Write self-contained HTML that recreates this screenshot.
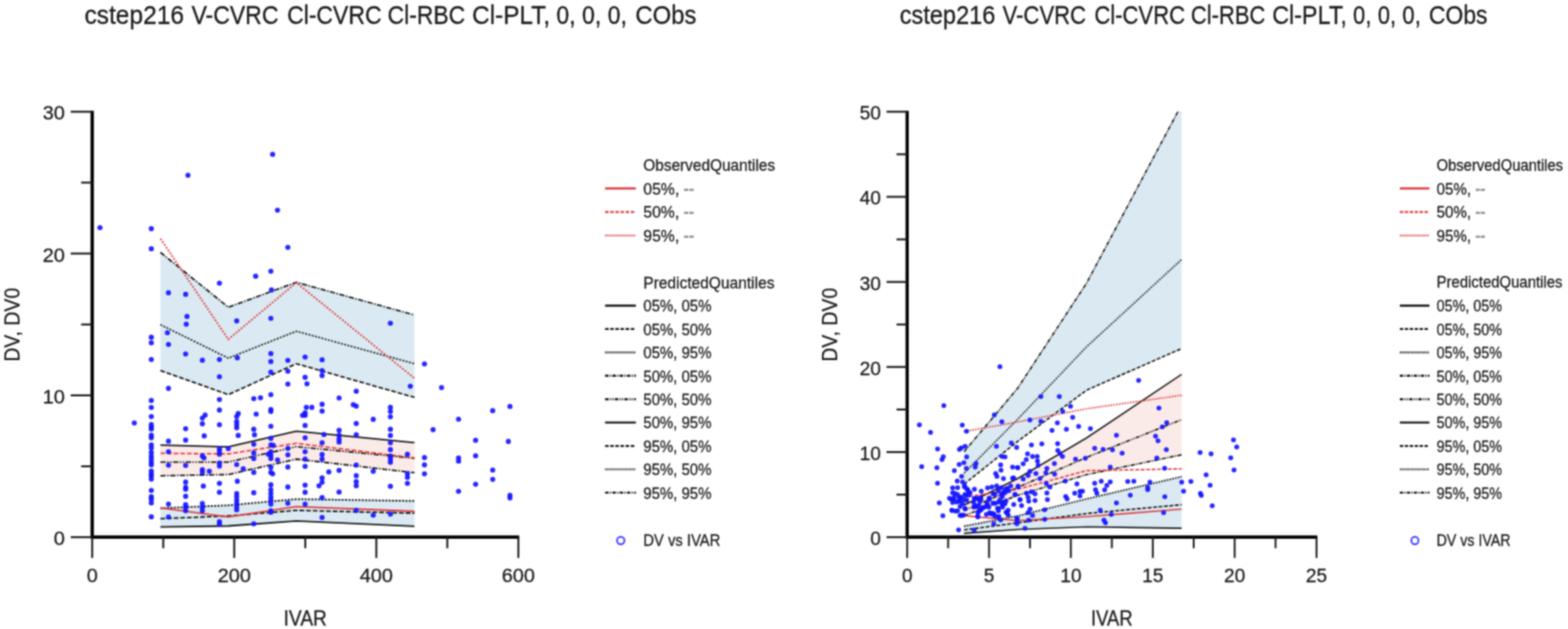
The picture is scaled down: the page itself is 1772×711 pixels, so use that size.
<!DOCTYPE html>
<html lang="en"><head><meta charset="utf-8"><title>cstep216 V-CVRC Cl-CVRC Cl-RBC Cl-PLT, 0, 0, 0, CObs</title>
<style>
html,body{margin:0;padding:0;background:#fff;}
body{width:1772px;height:711px;overflow:hidden;}
svg{display:block;font-family:"Liberation Sans", sans-serif;}
</style></head><body>
<svg width="1772" height="711" viewBox="0 0 1772 711">
<defs><clipPath id="plotclip"><rect x="0" y="125.8" width="1000" height="600"/></clipPath><filter id="soft" x="-6" y="-6" width="1784" height="723" filterUnits="userSpaceOnUse" color-interpolation-filters="sRGB"><feConvolveMatrix order="5" kernelMatrix="0.00087 0.00695 0.01388 0.00695 0.00087 0.00695 0.05540 0.11068 0.05540 0.00695 0.01388 0.11068 0.22111 0.11068 0.01388 0.00695 0.05540 0.11068 0.05540 0.00695 0.00087 0.00695 0.01388 0.00695 0.00087" divisor="1" edgeMode="duplicate" preserveAlpha="true"/></filter></defs>
<g filter="url(#soft)">
<rect x="-6" y="-6" width="1784" height="723" fill="#fff"/>
<g id="left">
<g clip-path="url(#plotclip)">
<polygon points="181.3,285.3 258,347.3 334.9,319.1 468.4,356.1 468.4,449.2 334.9,411.1 258,446.1 181.3,418.9" fill="#dbeaf2"/>
<polygon points="181.3,503.2 258,505.1 334.9,487.4 468.4,500.4 468.4,534.3 334.9,519 258,536.4 181.3,537.8" fill="#fbebe8"/>
<polygon points="181.3,574.5 258,571.2 334.9,564.2 468.4,566.3 468.4,594.8 334.9,588.9 258,594.5 181.3,595.7" fill="#dbeaf2"/>
<polyline points="181.3,285.3 258,347.3 334.9,319.1 468.4,356.1" fill="none" stroke="#151515" stroke-width="1.8" stroke-dasharray="6 1.7 1.6 1.7"/>
<polyline points="181.3,367 258,404.8 334.9,374.4 468.4,411.1" fill="none" stroke="#151515" stroke-width="1.7" stroke-dasharray="2.2 1.6"/>
<polyline points="181.3,418.9 258,446.1 334.9,411.1 468.4,449.2" fill="none" stroke="#151515" stroke-width="1.8" stroke-dasharray="5.3 2.2"/>
<polyline points="181.3,503.2 258,505.1 334.9,487.4 468.4,500.4" fill="none" stroke="#151515" stroke-width="1.8" />
<polyline points="181.3,522.3 258,522.3 334.9,504.9 468.4,518" fill="none" stroke="#151515" stroke-width="1.8" stroke-dasharray="6 1.7 1.6 1.7 1.6 1.7"/>
<polyline points="181.3,537.8 258,536.4 334.9,519 468.4,534.3" fill="none" stroke="#151515" stroke-width="1.8" stroke-dasharray="6 1.7 1.6 1.7"/>
<polyline points="181.3,574.5 258,571.2 334.9,564.2 468.4,566.3" fill="none" stroke="#151515" stroke-width="2" stroke-dasharray="2.2 1.6"/>
<polyline points="181.3,586.3 258,583.2 334.9,576.9 468.4,580.1" fill="none" stroke="#151515" stroke-width="1.8" stroke-dasharray="5.3 2.2"/>
<polyline points="181.3,595.7 258,594.5 334.9,588.9 468.4,594.8" fill="none" stroke="#151515" stroke-width="1.8" />
<polyline points="181.3,269.7 258,383.6 334.9,319.5 468.4,427.6" fill="none" stroke="#e0393e" stroke-width="1.8" stroke-dasharray="2.2 1.6"/>
<polyline points="181.3,512.4 258,513.1 334.9,501.1 468.4,517.6" fill="none" stroke="#e0393e" stroke-width="1.8" stroke-dasharray="5.3 2.2"/>
<polyline points="181.3,574.1 258,584.4 334.9,572.7 468.4,578" fill="none" stroke="#e0393e" stroke-width="1.8" />
</g>
<g fill="#1414ff" fill-opacity="0.93">
<circle cx="308.1" cy="174.4" r="2.9"/>
<circle cx="212.4" cy="198.1" r="2.9"/>
<circle cx="313.6" cy="237.6" r="2.9"/>
<circle cx="113" cy="257.3" r="2.9"/>
<circle cx="171" cy="258.5" r="2.9"/>
<circle cx="171" cy="281.2" r="2.9"/>
<circle cx="325.3" cy="279.6" r="2.9"/>
<circle cx="306.1" cy="306.6" r="2.9"/>
<circle cx="288.9" cy="312.2" r="2.9"/>
<circle cx="248" cy="320.1" r="2.9"/>
<circle cx="306.8" cy="327.7" r="2.9"/>
<circle cx="190.4" cy="330.9" r="2.9"/>
<circle cx="209.8" cy="332.7" r="2.9"/>
<circle cx="211.3" cy="357.7" r="2.9"/>
<circle cx="210.5" cy="366.4" r="2.9"/>
<circle cx="267.5" cy="362.7" r="2.9"/>
<circle cx="306.1" cy="359.8" r="2.9"/>
<circle cx="189.2" cy="376.1" r="2.9"/>
<circle cx="171" cy="381.2" r="2.9"/>
<circle cx="171" cy="387.4" r="2.9"/>
<circle cx="190.4" cy="389.3" r="2.9"/>
<circle cx="209.8" cy="400.1" r="2.9"/>
<circle cx="171" cy="406.3" r="2.9"/>
<circle cx="228.7" cy="407.2" r="2.9"/>
<circle cx="248" cy="406.3" r="2.9"/>
<circle cx="268.2" cy="404.4" r="2.9"/>
<circle cx="306.1" cy="399.7" r="2.9"/>
<circle cx="306.1" cy="408.7" r="2.9"/>
<circle cx="325.3" cy="407.3" r="2.9"/>
<circle cx="344.8" cy="403.6" r="2.9"/>
<circle cx="248" cy="425.8" r="2.9"/>
<circle cx="306.1" cy="420.7" r="2.9"/>
<circle cx="325.3" cy="419.6" r="2.9"/>
<circle cx="344.8" cy="426.5" r="2.9"/>
<circle cx="190.4" cy="439" r="2.9"/>
<circle cx="325.3" cy="434.1" r="2.9"/>
<circle cx="346.9" cy="433.8" r="2.9"/>
<circle cx="306.1" cy="446.1" r="2.9"/>
<circle cx="294.4" cy="449.6" r="2.9"/>
<circle cx="286.8" cy="450.6" r="2.9"/>
<circle cx="248" cy="451.6" r="2.9"/>
<circle cx="171" cy="452.7" r="2.9"/>
<circle cx="171" cy="460.6" r="2.9"/>
<circle cx="248" cy="463.5" r="2.9"/>
<circle cx="306.1" cy="463" r="2.9"/>
<circle cx="306.1" cy="465.1" r="2.9"/>
<circle cx="346.2" cy="460.5" r="2.9"/>
<circle cx="289.5" cy="468.1" r="2.9"/>
<circle cx="269.2" cy="467.4" r="2.9"/>
<circle cx="267.5" cy="470.8" r="2.9"/>
<circle cx="231.8" cy="469.2" r="2.9"/>
<circle cx="228.7" cy="472.6" r="2.9"/>
<circle cx="171" cy="470.8" r="2.9"/>
<circle cx="151.8" cy="478.1" r="2.9"/>
<circle cx="228.7" cy="479" r="2.9"/>
<circle cx="248" cy="480.1" r="2.9"/>
<circle cx="267.5" cy="476.4" r="2.9"/>
<circle cx="267.5" cy="480" r="2.9"/>
<circle cx="267.5" cy="483.5" r="2.9"/>
<circle cx="306.1" cy="481.8" r="2.9"/>
<circle cx="344.8" cy="480.9" r="2.9"/>
<circle cx="344.8" cy="469.4" r="2.9"/>
<circle cx="342" cy="469.4" r="2.9"/>
<circle cx="344.8" cy="466.6" r="2.9"/>
<circle cx="171" cy="480" r="2.9"/>
<circle cx="171" cy="482.8" r="2.9"/>
<circle cx="171" cy="484.9" r="2.9"/>
<circle cx="209.8" cy="484.6" r="2.9"/>
<circle cx="286.8" cy="485.2" r="2.9"/>
<circle cx="287.6" cy="491.4" r="2.9"/>
<circle cx="269.2" cy="492.2" r="2.9"/>
<circle cx="230.8" cy="492.7" r="2.9"/>
<circle cx="171" cy="492" r="2.9"/>
<circle cx="171" cy="494.8" r="2.9"/>
<circle cx="209.8" cy="497.5" r="2.9"/>
<circle cx="190.4" cy="498.7" r="2.9"/>
<circle cx="306.1" cy="495.5" r="2.9"/>
<circle cx="344.8" cy="494.8" r="2.9"/>
<circle cx="171" cy="502.8" r="2.9"/>
<circle cx="171" cy="506.3" r="2.9"/>
<circle cx="171" cy="511.3" r="2.9"/>
<circle cx="171" cy="515.5" r="2.9"/>
<circle cx="171" cy="519" r="2.9"/>
<circle cx="171" cy="522.6" r="2.9"/>
<circle cx="171" cy="525.4" r="2.9"/>
<circle cx="171" cy="532.4" r="2.9"/>
<circle cx="171" cy="536" r="2.9"/>
<circle cx="171" cy="538.1" r="2.9"/>
<circle cx="171" cy="541.6" r="2.9"/>
<circle cx="171" cy="554.3" r="2.9"/>
<circle cx="171" cy="561.4" r="2.9"/>
<circle cx="171" cy="564.2" r="2.9"/>
<circle cx="171" cy="568.4" r="2.9"/>
<circle cx="171" cy="584.2" r="2.9"/>
<circle cx="190.4" cy="510.6" r="2.9"/>
<circle cx="190.4" cy="525.8" r="2.9"/>
<circle cx="190.4" cy="569.8" r="2.9"/>
<circle cx="190.4" cy="584.4" r="2.9"/>
<circle cx="209.8" cy="526.1" r="2.9"/>
<circle cx="209.8" cy="544.9" r="2.9"/>
<circle cx="209.8" cy="550.8" r="2.9"/>
<circle cx="209.8" cy="552.9" r="2.9"/>
<circle cx="209.8" cy="561" r="2.9"/>
<circle cx="209.8" cy="570.5" r="2.9"/>
<circle cx="209.8" cy="573.4" r="2.9"/>
<circle cx="209.8" cy="577.3" r="2.9"/>
<circle cx="228.7" cy="515.5" r="2.9"/>
<circle cx="228.7" cy="531" r="2.9"/>
<circle cx="228.7" cy="533.9" r="2.9"/>
<circle cx="228.7" cy="569.1" r="2.9"/>
<circle cx="228.7" cy="573.4" r="2.9"/>
<circle cx="228.7" cy="577.3" r="2.9"/>
<circle cx="230.5" cy="517.6" r="2.9"/>
<circle cx="236.6" cy="532.7" r="2.9"/>
<circle cx="229.8" cy="549.4" r="2.9"/>
<circle cx="248" cy="507" r="2.9"/>
<circle cx="248" cy="509.9" r="2.9"/>
<circle cx="248" cy="513.4" r="2.9"/>
<circle cx="248" cy="523.3" r="2.9"/>
<circle cx="248" cy="526.8" r="2.9"/>
<circle cx="248" cy="546.3" r="2.9"/>
<circle cx="248" cy="556.4" r="2.9"/>
<circle cx="248" cy="589.6" r="2.9"/>
<circle cx="248" cy="592.4" r="2.9"/>
<circle cx="258" cy="507" r="2.9"/>
<circle cx="267.5" cy="525.1" r="2.9"/>
<circle cx="267.5" cy="557.8" r="2.9"/>
<circle cx="267.5" cy="561.4" r="2.9"/>
<circle cx="267.5" cy="565.6" r="2.9"/>
<circle cx="267.5" cy="569.1" r="2.9"/>
<circle cx="267.5" cy="572.7" r="2.9"/>
<circle cx="267.5" cy="576.2" r="2.9"/>
<circle cx="274.9" cy="529.9" r="2.9"/>
<circle cx="268.2" cy="544" r="2.9"/>
<circle cx="286.8" cy="502.1" r="2.9"/>
<circle cx="286.8" cy="512" r="2.9"/>
<circle cx="286.8" cy="518.3" r="2.9"/>
<circle cx="286.8" cy="533.9" r="2.9"/>
<circle cx="286.8" cy="556.9" r="2.9"/>
<circle cx="286.8" cy="592.1" r="2.9"/>
<circle cx="306.1" cy="502.8" r="2.9"/>
<circle cx="306.1" cy="510.6" r="2.9"/>
<circle cx="306.1" cy="514.8" r="2.9"/>
<circle cx="306.1" cy="518.3" r="2.9"/>
<circle cx="306.1" cy="528.2" r="2.9"/>
<circle cx="306.1" cy="533.9" r="2.9"/>
<circle cx="306.1" cy="548" r="2.9"/>
<circle cx="306.1" cy="553.6" r="2.9"/>
<circle cx="306.1" cy="557.8" r="2.9"/>
<circle cx="306.1" cy="562.1" r="2.9"/>
<circle cx="306.1" cy="565.6" r="2.9"/>
<circle cx="306.1" cy="569.8" r="2.9"/>
<circle cx="306.1" cy="577.3" r="2.9"/>
<circle cx="306.1" cy="579" r="2.9"/>
<circle cx="303.2" cy="513.4" r="2.9"/>
<circle cx="308.1" cy="535.6" r="2.9"/>
<circle cx="313.7" cy="519.8" r="2.9"/>
<circle cx="308.8" cy="503.5" r="2.9"/>
<circle cx="325.3" cy="506.8" r="2.9"/>
<circle cx="325.3" cy="514.1" r="2.9"/>
<circle cx="325.3" cy="527.9" r="2.9"/>
<circle cx="325.3" cy="550.5" r="2.9"/>
<circle cx="325.3" cy="568.8" r="2.9"/>
<circle cx="344.8" cy="510.6" r="2.9"/>
<circle cx="344.8" cy="519" r="2.9"/>
<circle cx="344.8" cy="527.1" r="2.9"/>
<circle cx="344.8" cy="548.3" r="2.9"/>
<circle cx="344.8" cy="556.4" r="2.9"/>
<circle cx="344.8" cy="569.8" r="2.9"/>
<circle cx="441.2" cy="365.3" r="2.9"/>
<circle cx="479.7" cy="411.3" r="2.9"/>
<circle cx="364" cy="406.7" r="2.9"/>
<circle cx="364" cy="418.9" r="2.9"/>
<circle cx="364" cy="424.5" r="2.9"/>
<circle cx="463.7" cy="436.6" r="2.9"/>
<circle cx="499" cy="438.1" r="2.9"/>
<circle cx="402.6" cy="442.2" r="2.9"/>
<circle cx="383.2" cy="449.8" r="2.9"/>
<circle cx="364" cy="457" r="2.9"/>
<circle cx="399.3" cy="457.4" r="2.9"/>
<circle cx="402.6" cy="459.1" r="2.9"/>
<circle cx="352.4" cy="460.5" r="2.9"/>
<circle cx="364" cy="464.7" r="2.9"/>
<circle cx="441.2" cy="460.5" r="2.9"/>
<circle cx="441.2" cy="465.1" r="2.9"/>
<circle cx="441.2" cy="471.1" r="2.9"/>
<circle cx="576.3" cy="459.4" r="2.9"/>
<circle cx="556.8" cy="464.2" r="2.9"/>
<circle cx="421.8" cy="474" r="2.9"/>
<circle cx="518.2" cy="473.8" r="2.9"/>
<circle cx="402.6" cy="478.7" r="2.9"/>
<circle cx="489.4" cy="485.7" r="2.9"/>
<circle cx="441.2" cy="485.2" r="2.9"/>
<circle cx="383.2" cy="486.3" r="2.9"/>
<circle cx="366.1" cy="491.2" r="2.9"/>
<circle cx="402.6" cy="491.5" r="2.9"/>
<circle cx="441.2" cy="492.2" r="2.9"/>
<circle cx="383.2" cy="492" r="2.9"/>
<circle cx="383.2" cy="496.2" r="2.9"/>
<circle cx="383.2" cy="499.7" r="2.9"/>
<circle cx="364" cy="500.4" r="2.9"/>
<circle cx="441.2" cy="500.4" r="2.9"/>
<circle cx="537.5" cy="497.7" r="2.9"/>
<circle cx="574.5" cy="499" r="2.9"/>
<circle cx="364" cy="513.7" r="2.9"/>
<circle cx="364" cy="519" r="2.9"/>
<circle cx="364" cy="540.2" r="2.9"/>
<circle cx="364" cy="545.1" r="2.9"/>
<circle cx="364" cy="562.5" r="2.9"/>
<circle cx="364" cy="584.9" r="2.9"/>
<circle cx="360.5" cy="549.1" r="2.9"/>
<circle cx="371.6" cy="533.4" r="2.9"/>
<circle cx="383.2" cy="531.7" r="2.9"/>
<circle cx="383.2" cy="556.2" r="2.9"/>
<circle cx="402.6" cy="525.7" r="2.9"/>
<circle cx="402.6" cy="537.7" r="2.9"/>
<circle cx="402.6" cy="544.4" r="2.9"/>
<circle cx="402.6" cy="549.1" r="2.9"/>
<circle cx="402.6" cy="576.9" r="2.9"/>
<circle cx="421.8" cy="532.7" r="2.9"/>
<circle cx="421.8" cy="582.3" r="2.9"/>
<circle cx="441.2" cy="508.2" r="2.9"/>
<circle cx="441.2" cy="515.5" r="2.9"/>
<circle cx="441.2" cy="519" r="2.9"/>
<circle cx="441.2" cy="522.6" r="2.9"/>
<circle cx="441.2" cy="549.7" r="2.9"/>
<circle cx="441.2" cy="581.1" r="2.9"/>
<circle cx="460.4" cy="513.4" r="2.9"/>
<circle cx="460.4" cy="535.3" r="2.9"/>
<circle cx="460.4" cy="539.5" r="2.9"/>
<circle cx="460.4" cy="546.3" r="2.9"/>
<circle cx="479.7" cy="517.2" r="2.9"/>
<circle cx="479.7" cy="525.4" r="2.9"/>
<circle cx="479.7" cy="535.6" r="2.9"/>
<circle cx="518.2" cy="517.6" r="2.9"/>
<circle cx="518.2" cy="521.2" r="2.9"/>
<circle cx="518.2" cy="555.3" r="2.9"/>
<circle cx="537.5" cy="515.2" r="2.9"/>
<circle cx="537.5" cy="547.3" r="2.9"/>
<circle cx="556.8" cy="531.3" r="2.9"/>
<circle cx="556.8" cy="541.8" r="2.9"/>
<circle cx="576.3" cy="560" r="2.9"/>
<circle cx="576.3" cy="562.8" r="2.9"/>
</g>
<g stroke="#000" stroke-width="3.8" fill="none" stroke-linecap="butt" stroke-linejoin="miter"><polyline points="104.2,125.3 104.2,607.2 586.8,607.2"/></g>
<g stroke="#1c1c1c" stroke-width="2.2">
<line x1="104.2" y1="607.2" x2="104.2" y2="630.7"/>
<line x1="264.7" y1="607.2" x2="264.7" y2="630.7"/>
<line x1="425.3" y1="607.2" x2="425.3" y2="630.7"/>
<line x1="585.8" y1="607.2" x2="585.8" y2="630.7"/>
<line x1="184.5" y1="607.2" x2="184.5" y2="619.7"/>
<line x1="345" y1="607.2" x2="345" y2="619.7"/>
<line x1="505.5" y1="607.2" x2="505.5" y2="619.7"/>
<line x1="79.9" y1="607.2" x2="104.2" y2="607.2"/>
<line x1="79.9" y1="446.9" x2="104.2" y2="446.9"/>
<line x1="79.9" y1="286.6" x2="104.2" y2="286.6"/>
<line x1="79.9" y1="126.3" x2="104.2" y2="126.3"/>
<line x1="91.7" y1="527.1" x2="104.2" y2="527.1"/>
<line x1="91.7" y1="366.8" x2="104.2" y2="366.8"/>
<line x1="91.7" y1="206.4" x2="104.2" y2="206.4"/>
</g>
<g font-size="22.5" fill="#1a1a1a" stroke="#1a1a1a" stroke-width="0.3" text-anchor="middle">
<text x="104.2" y="658.2">0</text>
<text x="264.7" y="658.2">200</text>
<text x="425.3" y="658.2">400</text>
<text x="585.8" y="658.2">600</text>
</g>
<g font-size="22.5" fill="#1a1a1a" stroke="#1a1a1a" stroke-width="0.3" text-anchor="end">
<text x="73.3" y="616.1">0</text>
<text x="73.3" y="455.8">10</text>
<text x="73.3" y="295.5">20</text>
<text x="73.3" y="135.2">30</text>
</g>
<text y="27" font-size="29" fill="#1a1a1a" stroke="#1a1a1a" stroke-width="0.3"><tspan x="95.4" textLength="112.6" lengthAdjust="spacingAndGlyphs">cstep216</tspan> <tspan x="216.4" textLength="98.3" lengthAdjust="spacingAndGlyphs">V-CVRC</tspan> <tspan x="324.4" textLength="106.8" lengthAdjust="spacingAndGlyphs">Cl-CVRC</tspan> <tspan x="438" textLength="87.6" lengthAdjust="spacingAndGlyphs">Cl-RBC</tspan> <tspan x="533.6" textLength="88" lengthAdjust="spacingAndGlyphs">Cl-PLT,</tspan> <tspan x="628.8" textLength="79.6" lengthAdjust="spacingAndGlyphs">0, 0, 0,</tspan> <tspan x="718" textLength="69" lengthAdjust="spacingAndGlyphs">CObs</tspan></text>
<text x="320.6" y="706.9" font-size="23" fill="#1a1a1a" stroke="#1a1a1a" stroke-width="0.3" textLength="48.8" lengthAdjust="spacingAndGlyphs">IVAR</text>
<text transform="translate(21.5 408.8) rotate(-90)" font-size="24.5" fill="#1a1a1a" stroke="#1a1a1a" stroke-width="0.3" textLength="83.5" lengthAdjust="spacingAndGlyphs">DV, DV0</text>
<g font-size="19" fill="#1a1a1a" stroke="#1a1a1a" stroke-width="0.3">
<text x="727" y="192.8" textLength="148.9" lengthAdjust="spacingAndGlyphs">ObservedQuantiles</text>
<text x="727" y="219.8" textLength="57.4" lengthAdjust="spacingAndGlyphs">05%, <tspan fill="#8a8a8a">--</tspan></text>
<text x="727" y="246.4" textLength="57.4" lengthAdjust="spacingAndGlyphs">50%, <tspan fill="#8a8a8a">--</tspan></text>
<text x="727" y="273" textLength="57.4" lengthAdjust="spacingAndGlyphs">95%, <tspan fill="#8a8a8a">--</tspan></text>
<text x="727" y="325.5" textLength="148.2" lengthAdjust="spacingAndGlyphs">PredictedQuantiles</text>
<text x="727" y="352.3" textLength="77" lengthAdjust="spacingAndGlyphs">05%, 05%</text>
<text x="727" y="378.7" textLength="77" lengthAdjust="spacingAndGlyphs">05%, 50%</text>
<text x="727" y="405.2" textLength="77" lengthAdjust="spacingAndGlyphs">05%, 95%</text>
<text x="727" y="431.6" textLength="77" lengthAdjust="spacingAndGlyphs">50%, 05%</text>
<text x="727" y="458" textLength="77" lengthAdjust="spacingAndGlyphs">50%, 50%</text>
<text x="727" y="484.4" textLength="77" lengthAdjust="spacingAndGlyphs">50%, 95%</text>
<text x="727" y="510.9" textLength="77" lengthAdjust="spacingAndGlyphs">95%, 05%</text>
<text x="727" y="537.3" textLength="77" lengthAdjust="spacingAndGlyphs">95%, 50%</text>
<text x="727" y="563.7" textLength="77" lengthAdjust="spacingAndGlyphs">95%, 95%</text>
<text x="727" y="617.3" textLength="87.1" lengthAdjust="spacingAndGlyphs">DV vs IVAR</text>
</g>
<line x1="683.8" x2="718.6" y1="213" y2="213" stroke="#e0393e" stroke-width="2.4" />
<line x1="683.8" x2="718.6" y1="239.6" y2="239.6" stroke="#e0393e" stroke-width="2.4" stroke-dasharray="4 1.8"/>
<line x1="683.8" x2="718.6" y1="266.2" y2="266.2" stroke="#e0393e" stroke-width="2" stroke-dasharray="1.5 1"/>
<line x1="683.8" x2="718.6" y1="345.5" y2="345.5" stroke="#151515" stroke-width="2.4" />
<line x1="683.8" x2="718.6" y1="371.9" y2="371.9" stroke="#151515" stroke-width="2.4" stroke-dasharray="4 1.8"/>
<line x1="683.8" x2="718.6" y1="398.4" y2="398.4" stroke="#151515" stroke-width="2.2" stroke-dasharray="1.5 1"/>
<line x1="683.8" x2="718.6" y1="424.8" y2="424.8" stroke="#151515" stroke-width="2.4" stroke-dasharray="4 1.5 1.2 1.5"/>
<line x1="683.8" x2="718.6" y1="451.2" y2="451.2" stroke="#151515" stroke-width="2.4" stroke-dasharray="4 1.5 1.2 1.5 1.2 1.5"/>
<line x1="683.8" x2="718.6" y1="477.6" y2="477.6" stroke="#151515" stroke-width="2.4" />
<line x1="683.8" x2="718.6" y1="504.1" y2="504.1" stroke="#151515" stroke-width="2.4" stroke-dasharray="4 1.8"/>
<line x1="683.8" x2="718.6" y1="530.5" y2="530.5" stroke="#151515" stroke-width="2.2" stroke-dasharray="1.5 1"/>
<line x1="683.8" x2="718.6" y1="556.9" y2="556.9" stroke="#151515" stroke-width="2.4" stroke-dasharray="4 1.5 1.2 1.5"/>
<circle cx="701.5" cy="611" r="4.2" fill="#fff" stroke="#3a3aff" stroke-width="2"/>
</g>
<g id="right" transform="translate(925.1 0) scale(0.9606 1)">
<g clip-path="url(#plotclip)">
<polygon points="171.1,510.6 234.1,439 315.3,320 427.1,118.3 427.1,394 315.3,441 234.1,499 171.1,547.3" fill="#dbeaf2"/>
<polygon points="171.1,571 234.1,541 315.3,495 427.1,423.1 427.1,514.1 315.3,536.5 234.1,560 171.1,583" fill="#fbebe8"/>
<polygon points="171.1,594.8 234.1,583.2 315.3,564 427.1,538.8 427.1,597.1 315.3,595.5 234.1,598.5 171.1,602.9" fill="#dbeaf2"/>
<polyline points="171.1,510.6 234.1,439 315.3,320 427.1,118.3" fill="none" stroke="#151515" stroke-width="1.7" stroke-dasharray="5.1 1.4 1.4 1.4"/>
<polyline points="171.1,534.9 234.1,474 315.3,392 427.1,293.3" fill="none" stroke="#151515" stroke-width="1.6" stroke-dasharray="1.9 1.4"/>
<polyline points="171.1,547.3 234.1,499 315.3,441 427.1,394" fill="none" stroke="#151515" stroke-width="1.7" stroke-dasharray="4.5 1.9"/>
<polyline points="171.1,571 234.1,541 315.3,495 427.1,423.1" fill="none" stroke="#151515" stroke-width="1.7" />
<polyline points="171.1,577 234.1,551 315.3,517 427.1,474.3" fill="none" stroke="#151515" stroke-width="1.7" stroke-dasharray="5.1 1.4 1.4 1.4 1.4 1.4"/>
<polyline points="171.1,583 234.1,560 315.3,536.5 427.1,514.1" fill="none" stroke="#151515" stroke-width="1.7" stroke-dasharray="5.1 1.4 1.4 1.4"/>
<polyline points="171.1,594.8 234.1,583.2 315.3,564 427.1,538.8" fill="none" stroke="#151515" stroke-width="1.9" stroke-dasharray="1.9 1.4"/>
<polyline points="171.1,599 234.1,591 315.3,580.5 427.1,570.5" fill="none" stroke="#151515" stroke-width="1.7" stroke-dasharray="4.5 1.9"/>
<polyline points="171.1,602.9 234.1,598.5 315.3,595.5 427.1,597.1" fill="none" stroke="#151515" stroke-width="1.7" />
<polyline points="171.1,487.8 234.1,477 315.3,462 427.1,446.8" fill="none" stroke="#e0393e" stroke-width="1.7" stroke-dasharray="1.9 1.4"/>
<polyline points="171.1,562 234.1,553 315.3,532 427.1,530" fill="none" stroke="#e0393e" stroke-width="1.7" stroke-dasharray="4.5 1.9"/>
<polyline points="171.1,582.8 234.1,588.5 315.3,584 427.1,575.5" fill="none" stroke="#e0393e" stroke-width="1.7" />
</g>
<g fill="#1414ff" fill-opacity="0.93">
<ellipse cx="213.3" cy="414.6" rx="2.85" ry="2.75"/>
<ellipse cx="147.3" cy="458.4" rx="2.85" ry="2.75"/>
<ellipse cx="118.6" cy="480.2" rx="2.85" ry="2.75"/>
<ellipse cx="131.7" cy="488.8" rx="2.85" ry="2.75"/>
<ellipse cx="169" cy="480.4" rx="2.85" ry="2.75"/>
<ellipse cx="174" cy="487.4" rx="2.85" ry="2.75"/>
<ellipse cx="206.7" cy="469" rx="2.85" ry="2.75"/>
<ellipse cx="215.6" cy="476.7" rx="2.85" ry="2.75"/>
<ellipse cx="261.5" cy="448.2" rx="2.85" ry="2.75"/>
<ellipse cx="283.2" cy="448.2" rx="2.85" ry="2.75"/>
<ellipse cx="296.4" cy="459.2" rx="2.85" ry="2.75"/>
<ellipse cx="287.2" cy="465.1" rx="2.85" ry="2.75"/>
<ellipse cx="248.6" cy="474.7" rx="2.85" ry="2.75"/>
<ellipse cx="261.5" cy="476.2" rx="2.85" ry="2.75"/>
<ellipse cx="298.9" cy="471.8" rx="2.85" ry="2.75"/>
<ellipse cx="280.9" cy="478.1" rx="2.85" ry="2.75"/>
<ellipse cx="274.6" cy="486.5" rx="2.85" ry="2.75"/>
<ellipse cx="291.5" cy="485.3" rx="2.85" ry="2.75"/>
<ellipse cx="305.9" cy="482.1" rx="2.85" ry="2.75"/>
<ellipse cx="319.8" cy="484.6" rx="2.85" ry="2.75"/>
<ellipse cx="350.4" cy="492" rx="2.85" ry="2.75"/>
<ellipse cx="140" cy="507.4" rx="2.85" ry="2.75"/>
<ellipse cx="165.7" cy="508.1" rx="2.85" ry="2.75"/>
<ellipse cx="167.9" cy="506.3" rx="2.85" ry="2.75"/>
<ellipse cx="172.4" cy="504.6" rx="2.85" ry="2.75"/>
<ellipse cx="146.7" cy="516.2" rx="2.85" ry="2.75"/>
<ellipse cx="145.2" cy="519.4" rx="2.85" ry="2.75"/>
<ellipse cx="174.2" cy="516.4" rx="2.85" ry="2.75"/>
<ellipse cx="121.3" cy="527.4" rx="2.85" ry="2.75"/>
<ellipse cx="139.2" cy="528.8" rx="2.85" ry="2.75"/>
<ellipse cx="165.4" cy="525" rx="2.85" ry="2.75"/>
<ellipse cx="170.9" cy="522.9" rx="2.85" ry="2.75"/>
<ellipse cx="159.7" cy="531.9" rx="2.85" ry="2.75"/>
<ellipse cx="173.8" cy="529.6" rx="2.85" ry="2.75"/>
<ellipse cx="185.2" cy="524" rx="2.85" ry="2.75"/>
<ellipse cx="184.2" cy="527.9" rx="2.85" ry="2.75"/>
<ellipse cx="209.2" cy="504.4" rx="2.85" ry="2.75"/>
<ellipse cx="226.7" cy="500.7" rx="2.85" ry="2.75"/>
<ellipse cx="233" cy="505.8" rx="2.85" ry="2.75"/>
<ellipse cx="215.7" cy="515.9" rx="2.85" ry="2.75"/>
<ellipse cx="219.3" cy="516.4" rx="2.85" ry="2.75"/>
<ellipse cx="214.2" cy="525.5" rx="2.85" ry="2.75"/>
<ellipse cx="214.6" cy="531.4" rx="2.85" ry="2.75"/>
<ellipse cx="228.2" cy="527.9" rx="2.85" ry="2.75"/>
<ellipse cx="234.4" cy="528.8" rx="2.85" ry="2.75"/>
<ellipse cx="208.3" cy="535.3" rx="2.85" ry="2.75"/>
<ellipse cx="209.8" cy="538.4" rx="2.85" ry="2.75"/>
<ellipse cx="217.5" cy="540.9" rx="2.85" ry="2.75"/>
<ellipse cx="228.2" cy="540.6" rx="2.85" ry="2.75"/>
<ellipse cx="168.3" cy="538.4" rx="2.85" ry="2.75"/>
<ellipse cx="163.1" cy="543.7" rx="2.85" ry="2.75"/>
<ellipse cx="169.4" cy="544.8" rx="2.85" ry="2.75"/>
<ellipse cx="139.9" cy="546.2" rx="2.85" ry="2.75"/>
<ellipse cx="171.7" cy="548.7" rx="2.85" ry="2.75"/>
<ellipse cx="142" cy="568.6" rx="2.85" ry="2.75"/>
<ellipse cx="146.2" cy="582.9" rx="2.85" ry="2.75"/>
<ellipse cx="157.7" cy="551.6" rx="2.85" ry="2.75"/>
<ellipse cx="163.5" cy="551.3" rx="2.85" ry="2.75"/>
<ellipse cx="171.7" cy="550.6" rx="2.85" ry="2.75"/>
<ellipse cx="175.3" cy="553.4" rx="2.85" ry="2.75"/>
<ellipse cx="183.3" cy="553.1" rx="2.85" ry="2.75"/>
<ellipse cx="191.4" cy="555.2" rx="2.85" ry="2.75"/>
<ellipse cx="198.8" cy="551.6" rx="2.85" ry="2.75"/>
<ellipse cx="203.9" cy="550.6" rx="2.85" ry="2.75"/>
<ellipse cx="209.5" cy="549.2" rx="2.85" ry="2.75"/>
<ellipse cx="215" cy="551.3" rx="2.85" ry="2.75"/>
<ellipse cx="221.5" cy="552" rx="2.85" ry="2.75"/>
<ellipse cx="226" cy="549.2" rx="2.85" ry="2.75"/>
<ellipse cx="234.7" cy="550.6" rx="2.85" ry="2.75"/>
<ellipse cx="157.7" cy="556.9" rx="2.85" ry="2.75"/>
<ellipse cx="163.5" cy="559" rx="2.85" ry="2.75"/>
<ellipse cx="154" cy="563.3" rx="2.85" ry="2.75"/>
<ellipse cx="159.2" cy="562.6" rx="2.85" ry="2.75"/>
<ellipse cx="166.5" cy="562.6" rx="2.85" ry="2.75"/>
<ellipse cx="173.8" cy="559.8" rx="2.85" ry="2.75"/>
<ellipse cx="178.2" cy="556.9" rx="2.85" ry="2.75"/>
<ellipse cx="157.7" cy="567.9" rx="2.85" ry="2.75"/>
<ellipse cx="165.7" cy="566.8" rx="2.85" ry="2.75"/>
<ellipse cx="185.6" cy="563.3" rx="2.85" ry="2.75"/>
<ellipse cx="190.7" cy="562.6" rx="2.85" ry="2.75"/>
<ellipse cx="201" cy="562.9" rx="2.85" ry="2.75"/>
<ellipse cx="205.4" cy="558.3" rx="2.85" ry="2.75"/>
<ellipse cx="215" cy="559" rx="2.85" ry="2.75"/>
<ellipse cx="219.3" cy="556.9" rx="2.85" ry="2.75"/>
<ellipse cx="223.7" cy="554.8" rx="2.85" ry="2.75"/>
<ellipse cx="231.1" cy="559" rx="2.85" ry="2.75"/>
<ellipse cx="236.9" cy="564.7" rx="2.85" ry="2.75"/>
<ellipse cx="229.6" cy="570.3" rx="2.85" ry="2.75"/>
<ellipse cx="219.3" cy="569.6" rx="2.85" ry="2.75"/>
<ellipse cx="207.6" cy="568.9" rx="2.85" ry="2.75"/>
<ellipse cx="198.1" cy="568.9" rx="2.85" ry="2.75"/>
<ellipse cx="188.5" cy="571" rx="2.85" ry="2.75"/>
<ellipse cx="182.6" cy="573.2" rx="2.85" ry="2.75"/>
<ellipse cx="192.9" cy="573.9" rx="2.85" ry="2.75"/>
<ellipse cx="200.3" cy="573.2" rx="2.85" ry="2.75"/>
<ellipse cx="210.5" cy="574.6" rx="2.85" ry="2.75"/>
<ellipse cx="216.4" cy="573.2" rx="2.85" ry="2.75"/>
<ellipse cx="223" cy="576.7" rx="2.85" ry="2.75"/>
<ellipse cx="172.4" cy="575.3" rx="2.85" ry="2.75"/>
<ellipse cx="166.5" cy="572.4" rx="2.85" ry="2.75"/>
<ellipse cx="157" cy="577" rx="2.85" ry="2.75"/>
<ellipse cx="163.5" cy="577.4" rx="2.85" ry="2.75"/>
<ellipse cx="167.9" cy="582.3" rx="2.85" ry="2.75"/>
<ellipse cx="187.1" cy="583.7" rx="2.85" ry="2.75"/>
<ellipse cx="188.5" cy="578.1" rx="2.85" ry="2.75"/>
<ellipse cx="197.4" cy="581.6" rx="2.85" ry="2.75"/>
<ellipse cx="204.7" cy="580.2" rx="2.85" ry="2.75"/>
<ellipse cx="212.1" cy="583.7" rx="2.85" ry="2.75"/>
<ellipse cx="223" cy="582.3" rx="2.85" ry="2.75"/>
<ellipse cx="233.3" cy="585.9" rx="2.85" ry="2.75"/>
<ellipse cx="182.6" cy="568.2" rx="2.85" ry="2.75"/>
<ellipse cx="213.5" cy="564.7" rx="2.85" ry="2.75"/>
<ellipse cx="250.4" cy="503" rx="2.85" ry="2.75"/>
<ellipse cx="262.6" cy="501.8" rx="2.85" ry="2.75"/>
<ellipse cx="281.2" cy="501.4" rx="2.85" ry="2.75"/>
<ellipse cx="281.4" cy="509.2" rx="2.85" ry="2.75"/>
<ellipse cx="286.9" cy="515.9" rx="2.85" ry="2.75"/>
<ellipse cx="284" cy="512.7" rx="2.85" ry="2.75"/>
<ellipse cx="245.8" cy="513.1" rx="2.85" ry="2.75"/>
<ellipse cx="251.7" cy="515.9" rx="2.85" ry="2.75"/>
<ellipse cx="257.2" cy="515.9" rx="2.85" ry="2.75"/>
<ellipse cx="244.3" cy="519.4" rx="2.85" ry="2.75"/>
<ellipse cx="257.5" cy="521.2" rx="2.85" ry="2.75"/>
<ellipse cx="240.7" cy="524.3" rx="2.85" ry="2.75"/>
<ellipse cx="258.3" cy="526.1" rx="2.85" ry="2.75"/>
<ellipse cx="234" cy="528.6" rx="2.85" ry="2.75"/>
<ellipse cx="277.4" cy="524" rx="2.85" ry="2.75"/>
<ellipse cx="302.3" cy="519" rx="2.85" ry="2.75"/>
<ellipse cx="313.8" cy="518" rx="2.85" ry="2.75"/>
<ellipse cx="324.8" cy="506.7" rx="2.85" ry="2.75"/>
<ellipse cx="334.7" cy="508.1" rx="2.85" ry="2.75"/>
<ellipse cx="345.7" cy="508.5" rx="2.85" ry="2.75"/>
<ellipse cx="357.1" cy="512.3" rx="2.85" ry="2.75"/>
<ellipse cx="343.1" cy="527.9" rx="2.85" ry="2.75"/>
<ellipse cx="268.6" cy="529.6" rx="2.85" ry="2.75"/>
<ellipse cx="267.4" cy="534.6" rx="2.85" ry="2.75"/>
<ellipse cx="277.7" cy="536" rx="2.85" ry="2.75"/>
<ellipse cx="248.7" cy="532.8" rx="2.85" ry="2.75"/>
<ellipse cx="255.7" cy="535.3" rx="2.85" ry="2.75"/>
<ellipse cx="246.5" cy="537.4" rx="2.85" ry="2.75"/>
<ellipse cx="240.7" cy="541.6" rx="2.85" ry="2.75"/>
<ellipse cx="260.5" cy="540.9" rx="2.85" ry="2.75"/>
<ellipse cx="229.6" cy="540.2" rx="2.85" ry="2.75"/>
<ellipse cx="290.2" cy="543.7" rx="2.85" ry="2.75"/>
<ellipse cx="267.9" cy="546.6" rx="2.85" ry="2.75"/>
<ellipse cx="303.9" cy="546.9" rx="2.85" ry="2.75"/>
<ellipse cx="324.8" cy="546.2" rx="2.85" ry="2.75"/>
<ellipse cx="332.5" cy="544.1" rx="2.85" ry="2.75"/>
<ellipse cx="343.1" cy="544.8" rx="2.85" ry="2.75"/>
<ellipse cx="339.1" cy="548.7" rx="2.85" ry="2.75"/>
<ellipse cx="234.7" cy="549.4" rx="2.85" ry="2.75"/>
<ellipse cx="336.5" cy="553.8" rx="2.85" ry="2.75"/>
<ellipse cx="325.8" cy="553.4" rx="2.85" ry="2.75"/>
<ellipse cx="327.3" cy="557.6" rx="2.85" ry="2.75"/>
<ellipse cx="310.4" cy="555.2" rx="2.85" ry="2.75"/>
<ellipse cx="307.5" cy="555.5" rx="2.85" ry="2.75"/>
<ellipse cx="301.3" cy="557.6" rx="2.85" ry="2.75"/>
<ellipse cx="307.5" cy="560.5" rx="2.85" ry="2.75"/>
<ellipse cx="290.7" cy="561.2" rx="2.85" ry="2.75"/>
<ellipse cx="292.4" cy="564" rx="2.85" ry="2.75"/>
<ellipse cx="272.2" cy="550.6" rx="2.85" ry="2.75"/>
<ellipse cx="268.6" cy="557.3" rx="2.85" ry="2.75"/>
<ellipse cx="269.2" cy="564.7" rx="2.85" ry="2.75"/>
<ellipse cx="231.1" cy="559" rx="2.85" ry="2.75"/>
<ellipse cx="244.7" cy="557.6" rx="2.85" ry="2.75"/>
<ellipse cx="250.3" cy="555.9" rx="2.85" ry="2.75"/>
<ellipse cx="254.6" cy="558.3" rx="2.85" ry="2.75"/>
<ellipse cx="246.5" cy="561.9" rx="2.85" ry="2.75"/>
<ellipse cx="237" cy="564.7" rx="2.85" ry="2.75"/>
<ellipse cx="247.2" cy="566.5" rx="2.85" ry="2.75"/>
<ellipse cx="254.6" cy="565.7" rx="2.85" ry="2.75"/>
<ellipse cx="238.8" cy="571.4" rx="2.85" ry="2.75"/>
<ellipse cx="248.7" cy="575.6" rx="2.85" ry="2.75"/>
<ellipse cx="246.5" cy="579.5" rx="2.85" ry="2.75"/>
<ellipse cx="251.7" cy="582.7" rx="2.85" ry="2.75"/>
<ellipse cx="266" cy="576.3" rx="2.85" ry="2.75"/>
<ellipse cx="266" cy="586.9" rx="2.85" ry="2.75"/>
<ellipse cx="233.7" cy="585.9" rx="2.85" ry="2.75"/>
<ellipse cx="247.2" cy="588" rx="2.85" ry="2.75"/>
<ellipse cx="350.4" cy="568.6" rx="2.85" ry="2.75"/>
<ellipse cx="331.4" cy="576.7" rx="2.85" ry="2.75"/>
<ellipse cx="344.3" cy="581.6" rx="2.85" ry="2.75"/>
<ellipse cx="335.7" cy="588" rx="2.85" ry="2.75"/>
<ellipse cx="164.7" cy="599" rx="2.85" ry="2.75"/>
<ellipse cx="183" cy="599.3" rx="2.85" ry="2.75"/>
<ellipse cx="206.1" cy="591.9" rx="2.85" ry="2.75"/>
<ellipse cx="233.3" cy="589.1" rx="2.85" ry="2.75"/>
<ellipse cx="233.3" cy="591.9" rx="2.85" ry="2.75"/>
<ellipse cx="214.2" cy="587.7" rx="2.85" ry="2.75"/>
<ellipse cx="187.4" cy="584.2" rx="2.85" ry="2.75"/>
<ellipse cx="376.5" cy="429.9" rx="2.85" ry="2.75"/>
<ellipse cx="400.4" cy="461.2" rx="2.85" ry="2.75"/>
<ellipse cx="409.5" cy="477.8" rx="2.85" ry="2.75"/>
<ellipse cx="404.4" cy="482.4" rx="2.85" ry="2.75"/>
<ellipse cx="396.4" cy="493.1" rx="2.85" ry="2.75"/>
<ellipse cx="399.3" cy="498.3" rx="2.85" ry="2.75"/>
<ellipse cx="409.1" cy="508.2" rx="2.85" ry="2.75"/>
<ellipse cx="397.9" cy="517.8" rx="2.85" ry="2.75"/>
<ellipse cx="448.8" cy="511.4" rx="2.85" ry="2.75"/>
<ellipse cx="461.7" cy="513.1" rx="2.85" ry="2.75"/>
<ellipse cx="488.1" cy="497.3" rx="2.85" ry="2.75"/>
<ellipse cx="491.9" cy="505.2" rx="2.85" ry="2.75"/>
<ellipse cx="484.9" cy="517.6" rx="2.85" ry="2.75"/>
<ellipse cx="407.1" cy="529.2" rx="2.85" ry="2.75"/>
<ellipse cx="488.7" cy="531.2" rx="2.85" ry="2.75"/>
<ellipse cx="455.9" cy="536.7" rx="2.85" ry="2.75"/>
<ellipse cx="363.7" cy="544.2" rx="2.85" ry="2.75"/>
<ellipse cx="370.9" cy="543.9" rx="2.85" ry="2.75"/>
<ellipse cx="389.8" cy="544.9" rx="2.85" ry="2.75"/>
<ellipse cx="387.2" cy="551.1" rx="2.85" ry="2.75"/>
<ellipse cx="387.2" cy="553.6" rx="2.85" ry="2.75"/>
<ellipse cx="366.7" cy="559.7" rx="2.85" ry="2.75"/>
<ellipse cx="407.3" cy="561.4" rx="2.85" ry="2.75"/>
<ellipse cx="405.9" cy="579.4" rx="2.85" ry="2.75"/>
<ellipse cx="427.2" cy="545" rx="2.85" ry="2.75"/>
<ellipse cx="438" cy="544.3" rx="2.85" ry="2.75"/>
<ellipse cx="460.6" cy="548.4" rx="2.85" ry="2.75"/>
<ellipse cx="429.4" cy="555.2" rx="2.85" ry="2.75"/>
<ellipse cx="449.2" cy="557.8" rx="2.85" ry="2.75"/>
<ellipse cx="450.2" cy="560" rx="2.85" ry="2.75"/>
<ellipse cx="463.1" cy="571.8" rx="2.85" ry="2.75"/>
<ellipse cx="172.1" cy="559" rx="2.85" ry="2.75"/>
<ellipse cx="167.7" cy="562" rx="2.85" ry="2.75"/>
<ellipse cx="176.5" cy="556.1" rx="2.85" ry="2.75"/>
<ellipse cx="174.3" cy="565.4" rx="2.85" ry="2.75"/>
<ellipse cx="183.1" cy="563.7" rx="2.85" ry="2.75"/>
<ellipse cx="187.5" cy="563.7" rx="2.85" ry="2.75"/>
<ellipse cx="189.7" cy="566.2" rx="2.85" ry="2.75"/>
<ellipse cx="200.7" cy="563.7" rx="2.85" ry="2.75"/>
<ellipse cx="207.3" cy="558.6" rx="2.85" ry="2.75"/>
<ellipse cx="218.3" cy="556.1" rx="2.85" ry="2.75"/>
<ellipse cx="220.5" cy="552.7" rx="2.85" ry="2.75"/>
<ellipse cx="216.1" cy="561.2" rx="2.85" ry="2.75"/>
<ellipse cx="211.7" cy="567.5" rx="2.85" ry="2.75"/>
<ellipse cx="205.1" cy="568.8" rx="2.85" ry="2.75"/>
<ellipse cx="185.3" cy="572.6" rx="2.85" ry="2.75"/>
<ellipse cx="189.7" cy="576" rx="2.85" ry="2.75"/>
<ellipse cx="194.1" cy="573.8" rx="2.85" ry="2.75"/>
<ellipse cx="198.5" cy="570.5" rx="2.85" ry="2.75"/>
<ellipse cx="187.5" cy="579.8" rx="2.85" ry="2.75"/>
<ellipse cx="202.9" cy="581" rx="2.85" ry="2.75"/>
<ellipse cx="207.3" cy="583.2" rx="2.85" ry="2.75"/>
<ellipse cx="211.7" cy="574.7" rx="2.85" ry="2.75"/>
<ellipse cx="216.1" cy="570.5" rx="2.85" ry="2.75"/>
<ellipse cx="220.5" cy="578.9" rx="2.85" ry="2.75"/>
<ellipse cx="211.7" cy="585.3" rx="2.85" ry="2.75"/>
<ellipse cx="158.9" cy="564.5" rx="2.85" ry="2.75"/>
<ellipse cx="165.4" cy="566.2" rx="2.85" ry="2.75"/>
<ellipse cx="172.1" cy="574.7" rx="2.85" ry="2.75"/>
<ellipse cx="161" cy="577.7" rx="2.85" ry="2.75"/>
<ellipse cx="156.7" cy="576.8" rx="2.85" ry="2.75"/>
<ellipse cx="168.5" cy="582.7" rx="2.85" ry="2.75"/>
<ellipse cx="189.7" cy="564.5" rx="2.85" ry="2.75"/>
<ellipse cx="200.7" cy="564.5" rx="2.85" ry="2.75"/>
<ellipse cx="220.5" cy="566.2" rx="2.85" ry="2.75"/>
<ellipse cx="242.8" cy="597.3" rx="2.85" ry="2.75"/>
<ellipse cx="337.5" cy="591" rx="2.85" ry="2.75"/>
<ellipse cx="160.3" cy="557.7" rx="2.85" ry="2.75"/>
<ellipse cx="165.4" cy="562.6" rx="2.85" ry="2.75"/>
<ellipse cx="170.5" cy="564.6" rx="2.85" ry="2.75"/>
<ellipse cx="156.2" cy="564.6" rx="2.85" ry="2.75"/>
<ellipse cx="162.3" cy="567.6" rx="2.85" ry="2.75"/>
<ellipse cx="169.5" cy="569.5" rx="2.85" ry="2.75"/>
<ellipse cx="174.6" cy="552.8" rx="2.85" ry="2.75"/>
<ellipse cx="176.7" cy="559.7" rx="2.85" ry="2.75"/>
<ellipse cx="183.8" cy="563.6" rx="2.85" ry="2.75"/>
<ellipse cx="191" cy="564.6" rx="2.85" ry="2.75"/>
<ellipse cx="185.9" cy="572.5" rx="2.85" ry="2.75"/>
<ellipse cx="191" cy="576.4" rx="2.85" ry="2.75"/>
<ellipse cx="197.2" cy="572.5" rx="2.85" ry="2.75"/>
<ellipse cx="201.2" cy="579.4" rx="2.85" ry="2.75"/>
<ellipse cx="206.3" cy="581.3" rx="2.85" ry="2.75"/>
<ellipse cx="211.5" cy="577.4" rx="2.85" ry="2.75"/>
<ellipse cx="216.6" cy="569.5" rx="2.85" ry="2.75"/>
<ellipse cx="221.7" cy="579.4" rx="2.85" ry="2.75"/>
<ellipse cx="216.6" cy="557.7" rx="2.85" ry="2.75"/>
<ellipse cx="221.7" cy="552.8" rx="2.85" ry="2.75"/>
<ellipse cx="211.5" cy="554.8" rx="2.85" ry="2.75"/>
<ellipse cx="170.5" cy="582.3" rx="2.85" ry="2.75"/>
<ellipse cx="166.5" cy="582.8" rx="2.85" ry="2.75"/>
</g>
<g stroke="#000" stroke-width="3.8" fill="none" stroke-linecap="butt" stroke-linejoin="miter"><polyline points="104.2,125.3 104.2,607.2 586.8,607.2"/></g>
<g stroke="#1c1c1c" stroke-width="2.2">
<line x1="104.2" y1="607.2" x2="104.2" y2="630.7"/>
<line x1="200.5" y1="607.2" x2="200.5" y2="630.7"/>
<line x1="296.8" y1="607.2" x2="296.8" y2="630.7"/>
<line x1="393.2" y1="607.2" x2="393.2" y2="630.7"/>
<line x1="489.5" y1="607.2" x2="489.5" y2="630.7"/>
<line x1="585.8" y1="607.2" x2="585.8" y2="630.7"/>
<line x1="152.4" y1="607.2" x2="152.4" y2="619.7"/>
<line x1="248.7" y1="607.2" x2="248.7" y2="619.7"/>
<line x1="345" y1="607.2" x2="345" y2="619.7"/>
<line x1="441.3" y1="607.2" x2="441.3" y2="619.7"/>
<line x1="537.6" y1="607.2" x2="537.6" y2="619.7"/>
<line x1="79.9" y1="607.2" x2="104.2" y2="607.2"/>
<line x1="79.9" y1="511" x2="104.2" y2="511"/>
<line x1="79.9" y1="414.8" x2="104.2" y2="414.8"/>
<line x1="79.9" y1="318.7" x2="104.2" y2="318.7"/>
<line x1="79.9" y1="222.5" x2="104.2" y2="222.5"/>
<line x1="79.9" y1="126.3" x2="104.2" y2="126.3"/>
<line x1="91.7" y1="559.1" x2="104.2" y2="559.1"/>
<line x1="91.7" y1="462.9" x2="104.2" y2="462.9"/>
<line x1="91.7" y1="366.8" x2="104.2" y2="366.8"/>
<line x1="91.7" y1="270.6" x2="104.2" y2="270.6"/>
<line x1="91.7" y1="174.4" x2="104.2" y2="174.4"/>
</g>
<g font-size="22.5" fill="#1a1a1a" stroke="#1a1a1a" stroke-width="0.3" text-anchor="middle">
<text x="104.2" y="658.2">0</text>
<text x="200.5" y="658.2">5</text>
<text x="296.8" y="658.2">10</text>
<text x="393.2" y="658.2">15</text>
<text x="489.5" y="658.2">20</text>
<text x="585.8" y="658.2">25</text>
</g>
<g font-size="22.5" fill="#1a1a1a" stroke="#1a1a1a" stroke-width="0.3" text-anchor="end">
<text x="73.3" y="616.1">0</text>
<text x="73.3" y="519.9">10</text>
<text x="73.3" y="423.7">20</text>
<text x="73.3" y="327.6">30</text>
<text x="73.3" y="231.4">40</text>
<text x="73.3" y="135.2">50</text>
</g>
<text y="27" font-size="29" fill="#1a1a1a" stroke="#1a1a1a" stroke-width="0.3"><tspan x="95.4" textLength="112.6" lengthAdjust="spacingAndGlyphs">cstep216</tspan> <tspan x="216.4" textLength="98.3" lengthAdjust="spacingAndGlyphs">V-CVRC</tspan> <tspan x="324.4" textLength="106.8" lengthAdjust="spacingAndGlyphs">Cl-CVRC</tspan> <tspan x="438" textLength="87.6" lengthAdjust="spacingAndGlyphs">Cl-RBC</tspan> <tspan x="533.6" textLength="88" lengthAdjust="spacingAndGlyphs">Cl-PLT,</tspan> <tspan x="628.8" textLength="79.6" lengthAdjust="spacingAndGlyphs">0, 0, 0,</tspan> <tspan x="718" textLength="69" lengthAdjust="spacingAndGlyphs">CObs</tspan></text>
<text x="320.6" y="706.9" font-size="23" fill="#1a1a1a" stroke="#1a1a1a" stroke-width="0.3" textLength="48.8" lengthAdjust="spacingAndGlyphs">IVAR</text>
<text transform="translate(21.5 408.8) rotate(-90)" font-size="24.5" fill="#1a1a1a" stroke="#1a1a1a" stroke-width="0.3" textLength="83.5" lengthAdjust="spacingAndGlyphs">DV, DV0</text>
<g font-size="19" fill="#1a1a1a" stroke="#1a1a1a" stroke-width="0.3">
<text x="727" y="192.8" textLength="148.9" lengthAdjust="spacingAndGlyphs">ObservedQuantiles</text>
<text x="727" y="219.8" textLength="57.4" lengthAdjust="spacingAndGlyphs">05%, <tspan fill="#8a8a8a">--</tspan></text>
<text x="727" y="246.4" textLength="57.4" lengthAdjust="spacingAndGlyphs">50%, <tspan fill="#8a8a8a">--</tspan></text>
<text x="727" y="273" textLength="57.4" lengthAdjust="spacingAndGlyphs">95%, <tspan fill="#8a8a8a">--</tspan></text>
<text x="727" y="325.5" textLength="148.2" lengthAdjust="spacingAndGlyphs">PredictedQuantiles</text>
<text x="727" y="352.3" textLength="77" lengthAdjust="spacingAndGlyphs">05%, 05%</text>
<text x="727" y="378.7" textLength="77" lengthAdjust="spacingAndGlyphs">05%, 50%</text>
<text x="727" y="405.2" textLength="77" lengthAdjust="spacingAndGlyphs">05%, 95%</text>
<text x="727" y="431.6" textLength="77" lengthAdjust="spacingAndGlyphs">50%, 05%</text>
<text x="727" y="458" textLength="77" lengthAdjust="spacingAndGlyphs">50%, 50%</text>
<text x="727" y="484.4" textLength="77" lengthAdjust="spacingAndGlyphs">50%, 95%</text>
<text x="727" y="510.9" textLength="77" lengthAdjust="spacingAndGlyphs">95%, 05%</text>
<text x="727" y="537.3" textLength="77" lengthAdjust="spacingAndGlyphs">95%, 50%</text>
<text x="727" y="563.7" textLength="77" lengthAdjust="spacingAndGlyphs">95%, 95%</text>
<text x="727" y="617.3" textLength="87.1" lengthAdjust="spacingAndGlyphs">DV vs IVAR</text>
</g>
<line x1="683.8" x2="718.6" y1="213" y2="213" stroke="#e0393e" stroke-width="2.4" />
<line x1="683.8" x2="718.6" y1="239.6" y2="239.6" stroke="#e0393e" stroke-width="2.4" stroke-dasharray="4 1.8"/>
<line x1="683.8" x2="718.6" y1="266.2" y2="266.2" stroke="#e0393e" stroke-width="2" stroke-dasharray="1.5 1"/>
<line x1="683.8" x2="718.6" y1="345.5" y2="345.5" stroke="#151515" stroke-width="2.4" />
<line x1="683.8" x2="718.6" y1="371.9" y2="371.9" stroke="#151515" stroke-width="2.4" stroke-dasharray="4 1.8"/>
<line x1="683.8" x2="718.6" y1="398.4" y2="398.4" stroke="#151515" stroke-width="2.2" stroke-dasharray="1.5 1"/>
<line x1="683.8" x2="718.6" y1="424.8" y2="424.8" stroke="#151515" stroke-width="2.4" stroke-dasharray="4 1.5 1.2 1.5"/>
<line x1="683.8" x2="718.6" y1="451.2" y2="451.2" stroke="#151515" stroke-width="2.4" stroke-dasharray="4 1.5 1.2 1.5 1.2 1.5"/>
<line x1="683.8" x2="718.6" y1="477.6" y2="477.6" stroke="#151515" stroke-width="2.4" />
<line x1="683.8" x2="718.6" y1="504.1" y2="504.1" stroke="#151515" stroke-width="2.4" stroke-dasharray="4 1.8"/>
<line x1="683.8" x2="718.6" y1="530.5" y2="530.5" stroke="#151515" stroke-width="2.2" stroke-dasharray="1.5 1"/>
<line x1="683.8" x2="718.6" y1="556.9" y2="556.9" stroke="#151515" stroke-width="2.4" stroke-dasharray="4 1.5 1.2 1.5"/>
<circle cx="701.5" cy="611" r="4.2" fill="#fff" stroke="#3a3aff" stroke-width="2"/>
</g>
</g>
</svg>
</body></html>
